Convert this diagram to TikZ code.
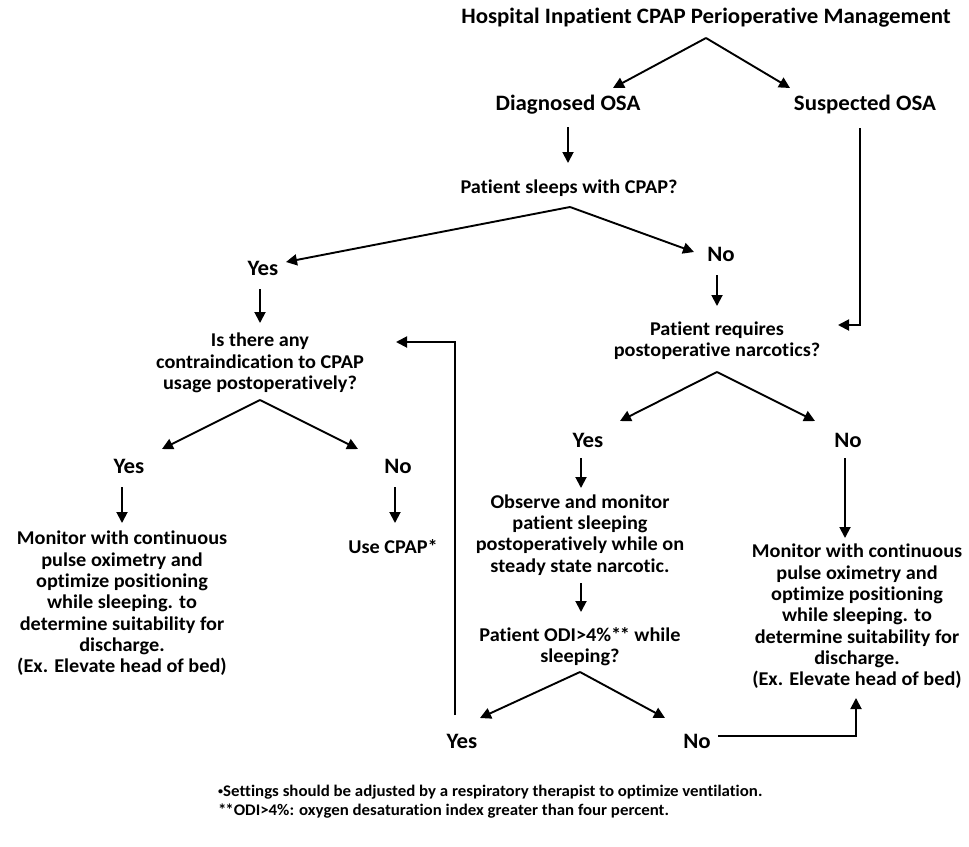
\documentclass[tikz,border=0pt]{standalone}
\usepackage{fontspec}
\setmainfont{Carlito}[Ligatures=NoCommon, FakeStretch=1.04]
\usetikzlibrary{arrows.meta}
\tikzset{
  txt/.style={font=\bfseries\fontsize{19.5}{21.3}\selectfont, align=center, inner sep=0pt},
  head/.style={font=\bfseries\fontsize{22}{24}\selectfont, align=center, inner sep=0pt},
  foot/.style={font=\bfseries\fontsize{16.2}{19}\selectfont, align=left, inner sep=0pt, anchor=west},
  conn/.style={line width=1.9pt, -{Triangle[length=11pt,width=11pt]}}
}
\begin{document}
\begin{tikzpicture}[x=1pt,y=-1pt]
\useasboundingbox (0,0) rectangle (969,846);
% nodes
\node[head] (title) at (706,18) {Hospital Inpatient CPAP Perioperative Management};
\node[head] (dosa) at (568,105) {Diagnosed OSA};
\node[head] (sosa) at (865,105) {Suspected OSA};
\node[txt] (sleeps) at (569,188) {Patient sleeps with CPAP?};
\node[head] (yes1) at (263,268) {Yes};
\node[head] (no1) at (721,254) {No};
\node[txt] (contra) at (260,363) {Is there any\\contraindication to CPAP\\usage postoperatively?};
\node[head] (yes2) at (129,466) {Yes};
\node[head] (no2) at (398,466) {No};
\node[txt] (mon1) at (122,603.5) {Monitor with continuous\\pulse oximetry and\\optimize positioning\\while sleeping. to\\determine suitability for\\discharge.\\(Ex. Elevate head of bed)};
\node[txt] (usecpap) at (393,547) {Use CPAP*};
\node[txt] (narc) at (717,341) {Patient requires\\postoperative narcotics?};
\node[head] (yes3) at (588,440) {Yes};
\node[head] (no3) at (848,440) {No};
\node[txt] (observe) at (580,535) {Observe and monitor\\patient sleeping\\postoperatively while on\\steady state narcotic.};
\node[txt] (odi) at (580,647) {Patient ODI>4\%*\kern-1.5pt* while\\sleeping?};
\node[head] (yes4) at (462,741) {Yes};
\node[head] (no4) at (697,741) {No};
\node[txt] (mon2) at (857,616.5) {Monitor with continuous\\pulse oximetry and\\optimize positioning\\while sleeping. to\\determine suitability for\\discharge.\\(Ex. Elevate head of bed)};
\node[foot] (foot1) at (218,792) {\raisebox{1.5pt}{\scalebox{0.6}{•}}Settings should be adjusted by a respiratory therapist to optimize ventilation.};
\node[foot] (foot2) at (218,811) {*\kern-1.2pt*ODI>4\%: oxygen desaturation index greater than four percent.};
% coordinates
\coordinate (a0) at (706,38);
\coordinate (t0l) at (613,88);
\coordinate (t0r) at (790,88);
\coordinate (d1s) at (568,127);
\coordinate (d1e) at (568,163);
\coordinate (a1) at (570,207);
\coordinate (t1l) at (286,262);
\coordinate (t1r) at (694,252);
\coordinate (y1s) at (260,289);
\coordinate (y1e) at (260,323);
\coordinate (a2) at (260,400);
\coordinate (t2l) at (162,449);
\coordinate (t2r) at (358,449);
\coordinate (y2s) at (122,487);
\coordinate (y2e) at (122,523);
\coordinate (n2s) at (395,487);
\coordinate (n2e) at (395,523);
\coordinate (l1) at (455,715);
\coordinate (l2) at (455,342);
\coordinate (l3) at (396,342);
\coordinate (s1) at (860,128);
\coordinate (s2) at (860,325);
\coordinate (s3) at (838,325);
\coordinate (n1s) at (717,275);
\coordinate (n1e) at (717,306);
\coordinate (a3) at (717,372);
\coordinate (t3l) at (620,421);
\coordinate (t3r) at (815,421);
\coordinate (y3s) at (581,458);
\coordinate (y3e) at (581,488);
\coordinate (n3s) at (845,458);
\coordinate (n3e) at (845,538);
\coordinate (o1s) at (581,583);
\coordinate (o1e) at (581,612);
\coordinate (a4) at (580,672);
\coordinate (t4l) at (480,718);
\coordinate (t4r) at (665,718);
\coordinate (r1) at (718,736);
\coordinate (r2) at (856,736);
\coordinate (r3) at (856,698);
% connectors
\draw[conn] (a0) -- (t0l);
\draw[conn] (a0) -- (t0r);
\draw[conn] (d1s) -- (d1e);
\draw[conn] (a1) -- (t1l);
\draw[conn] (a1) -- (t1r);
\draw[conn] (y1s) -- (y1e);
\draw[conn] (a2) -- (t2l);
\draw[conn] (a2) -- (t2r);
\draw[conn] (y2s) -- (y2e);
\draw[conn] (n2s) -- (n2e);
\draw[conn] (l1) -- (l2) -- (l3);
\draw[conn] (s1) -- (s2) -- (s3);
\draw[conn] (n1s) -- (n1e);
\draw[conn] (a3) -- (t3l);
\draw[conn] (a3) -- (t3r);
\draw[conn] (y3s) -- (y3e);
\draw[conn] (n3s) -- (n3e);
\draw[conn] (o1s) -- (o1e);
\draw[conn] (a4) -- (t4l);
\draw[conn] (a4) -- (t4r);
\draw[conn] (r1) -- (r2) -- (r3);
\end{tikzpicture}
\end{document}
